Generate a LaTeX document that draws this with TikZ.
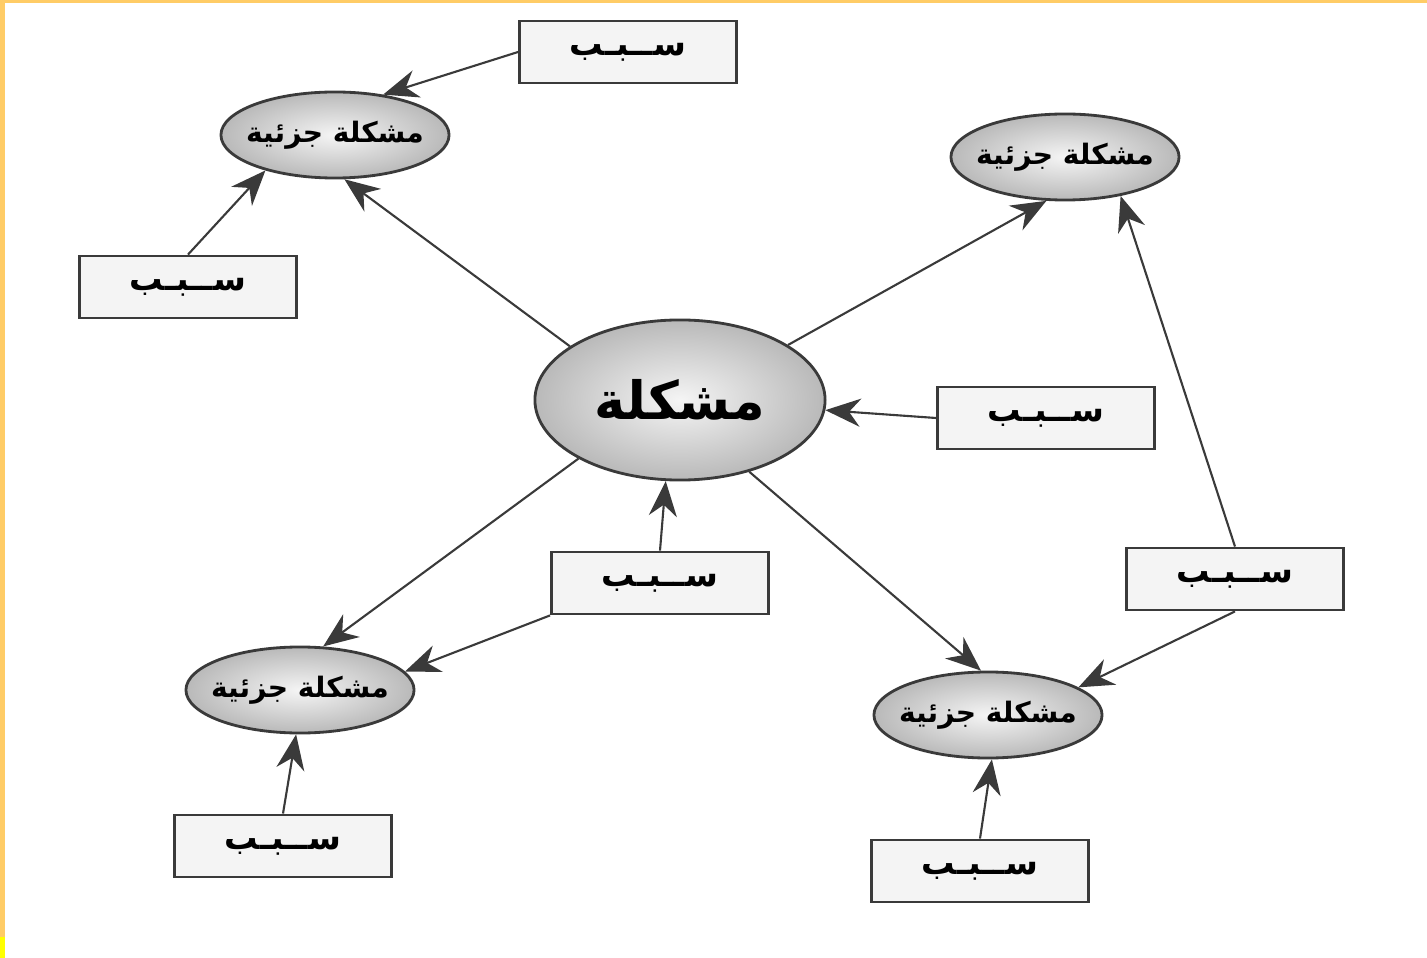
\documentclass[tikz,border=0pt]{standalone}
\usepackage{fontspec}
\usepackage{tikz}
\usetikzlibrary{arrows.meta, shapes.geometric}
\newfontfamily\arabicfont[Script=Arabic]{DejaVu Sans}
\TeXXeTstate=1
\definecolor{scanframe}{HTML}{FFCC66}
\definecolor{scanyellow}{HTML}{FFFF00}
\definecolor{inkgray}{HTML}{3A3A3A}
\definecolor{boxgray}{HTML}{F4F4F4}
% text kept at zero width so that the shapes keep their own size
\newcommand{\artext}[1]{\makebox[0pt][c]{\arabicfont\bfseries\beginR #1\endR}}

\begin{document}
\begin{tikzpicture}[
  x=0.01cm, y=-0.01cm,
  mainprob/.style={
    ellipse, draw=inkgray, line width=0.8pt, inner sep=0pt,
    shading=radial, inner color=gray!8, outer color=gray!55,
    minimum width=2.9cm, minimum height=1.6cm,
    font=\fontsize{15}{18}\selectfont
  },
  subprob/.style={
    ellipse, draw=inkgray, line width=0.8pt, inner sep=0pt,
    shading=radial, inner color=gray!8, outer color=gray!55,
    minimum width=2.28cm, minimum height=0.86cm,
    font=\fontsize{8}{10}\selectfont
  },
  cause/.style={
    rectangle, draw=inkgray, line width=0.8pt, fill=boxgray,
    minimum width=2.17cm, minimum height=0.62cm,
    font=\fontsize{9.5}{11}\selectfont
  },
  arrow/.style={-{Stealth[length=10pt, width=8pt]}, line width=0.6pt, color=inkgray},
]
\useasboundingbox (0,0) rectangle (1427,958);

% --- Scan frame ---
\fill[scanframe] (0,0) rectangle (1427,3);
\fill[scanframe] (0,0) rectangle (5,958);
\fill[scanyellow] (0,937) rectangle (5,958);

% --- Problem and sub-problems ---
\node[mainprob] (main) at (680,400) {\artext{مشكلة}};
\node[subprob] (subtl) at (335,135) {\artext{مشكلة جزئية}};
\node[subprob] (subtr) at (1065,157) {\artext{مشكلة جزئية}};
\node[subprob] (subbl) at (300,690) {\artext{مشكلة جزئية}};
\node[subprob] (subbr) at (988,715) {\artext{مشكلة جزئية}};

% --- Causes ---
\node[cause] (causetop) at (628,52) {\artext{ســبـب}};
\node[cause] (causeleft) at (188,287) {\artext{ســبـب}};
\node[cause] (causermid) at (1046,418) {\artext{ســبـب}};
\node[cause] (causemid) at (660,583) {\artext{ســبـب}};
\node[cause] (causerbot) at (1235,579) {\artext{ســبـب}};
\node[cause] (causeblb) at (283,846) {\artext{ســبـب}};
\node[cause] (causebrb) at (980,871) {\artext{ســبـب}};

% --- Arrows ---
\draw[arrow] (causetop.west) -- (subtl.40);
\draw[arrow] (causeleft.north) -- (subtl.207);
\draw[arrow] (main.154) -- (subtl.282);
\draw[arrow] (main.27) -- (subtr.247);
\draw[arrow] (causermid.west) -- (main.356);
\draw[arrow] (main.210) -- (subbl.62);
\draw[arrow] (main.314) -- (subbr.99);
\draw[arrow] (causemid.north) -- (main.260);
\draw[arrow] (causemid.south west) -- (subbl.10);
\draw[arrow] (causerbot.north) -- (subtr.325);
\draw[arrow] (causerbot.south) -- (subbr.17);
\draw[arrow] (causeblb.north) -- (subbl.265);
\draw[arrow] (causebrb.north) -- (subbr.275);

\end{tikzpicture}
\end{document}
